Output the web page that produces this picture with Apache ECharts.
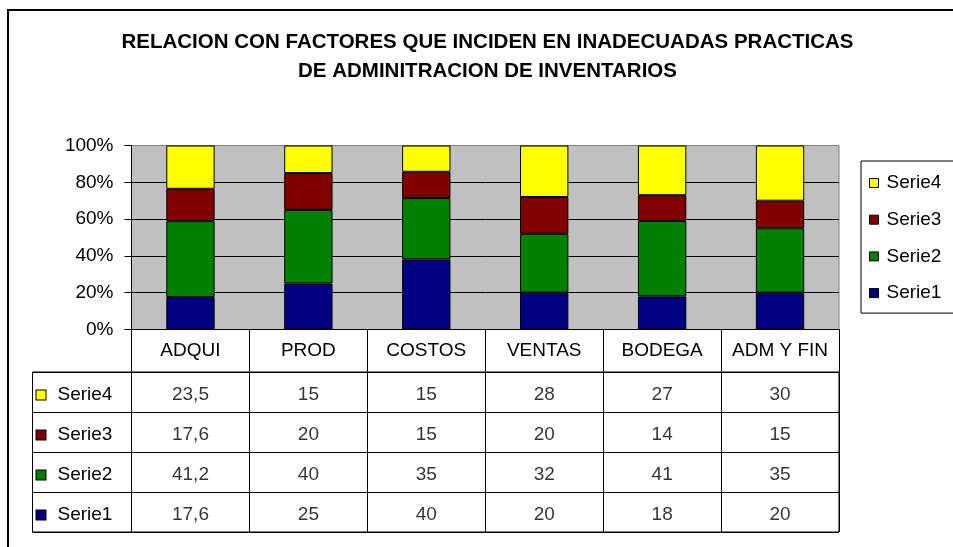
<!DOCTYPE html>
<html>
<head>
<meta charset="utf-8">
<script src="https://cdn.jsdelivr.net/npm/echarts@6/dist/echarts.min.js"></script>
<style>
html,body{margin:0;padding:0;background:#fff;}
#c{width:953px;height:547px;}
</style>
</head>
<body>
<div id="c"></div>
<script>
// ---- data ----
const categories = ['ADQUI', 'PROD', 'COSTOS', 'VENTAS', 'BODEGA', 'ADM Y FIN'];
const seriesNames = ['Serie1', 'Serie2', 'Serie3', 'Serie4'];
const serie1 = [17.6, 25, 40, 20, 18, 20];
const serie2 = [41.2, 40, 35, 32, 41, 35];
const serie3 = [17.6, 20, 15, 20, 14, 15];
const serie4 = [23.5, 15, 15, 28, 27, 30];
const yTicks = [0, 20, 40, 60, 80, 100];
const titleLines = ['RELACION CON FACTORES QUE INCIDEN EN INADECUADAS PRACTICAS', 'DE ADMINITRACION DE INVENTARIOS'];
// ---- styling ----
const colors = ['#000080', '#008000', '#800000', '#FFFF00'];
const FONT = '"Liberation Sans", Arial, sans-serif';
const FS = 19;

const raw = [serie1, serie2, serie3, serie4];
const totals = categories.map((c, i) => raw.reduce((s, arr) => s + arr[i], 0));
const fmt = v => String(v).replace('.', ',');

const plot = {left: 131.5, right: 953 - 839, top: 145.5, height: 184};
const tableTop = 372, tableBottom = 532;

const chart = echarts.init(document.getElementById('c'), null, {renderer: 'canvas'});

const series = [];
raw.forEach((arr, k) => {
  series.push({
    name: seriesNames[k], type: 'bar', stack: 'tot', xAxisIndex: 0, yAxisIndex: 0,
    barWidth: '41%',
    data: arr.map((v, i) => v / totals[i] * 100),
    itemStyle: {color: colors[k], borderColor: '#000', borderWidth: 1},
    emphasis: {disabled: true}, silent: true, animation: false
  });
});
raw.forEach((arr, k) => {
  series.push({
    name: 'tabla' + k, type: 'scatter', xAxisIndex: 1, yAxisIndex: 1,
    symbolSize: 1, itemStyle: {color: 'rgba(0,0,0,0)'},
    data: arr.map((v, i) => [categories[i], seriesNames[k], v]),
    label: {show: true, position: 'inside', offset: [0, 3], formatter: p => fmt(p.value[2]),
      color: '#000', fontSize: FS, fontFamily: FONT},
    silent: true, animation: false
  });
});

const rich = {t: {fontSize: FS, fontFamily: FONT, color: '#000', padding: [0, 0, 0, 12], verticalAlign: 'middle'}};
seriesNames.forEach((n, k) => {
  rich['s' + k] = {width: 9, height: 9, backgroundColor: colors[k], borderColor: '#000', borderWidth: 1, verticalAlign: 'middle'};
});

chart.setOption({
  animation: false,
  backgroundColor: '#fff',
  textStyle: {fontFamily: FONT, color: '#000'},
  graphic: [
    {type: 'rect', shape: {x: 8, y: 10, width: 1000, height: 600}, style: {fill: 'none', stroke: '#000', lineWidth: 2}, silent: true, z: -10},
    {type: 'text', x: 487.5, y: 28, style: {text: titleLines.join('\n'), fontSize: 20.5, fontWeight: 'bold', fontFamily: FONT, fill: '#000', align: 'center', lineHeight: 29}}
  ],
  legend: {
    data: seriesNames.slice().reverse(), orient: 'vertical', left: 861, top: 161,
    padding: [12, 30, 10, 8], itemGap: 16.7, itemWidth: 9, itemHeight: 9, icon: 'rect',
    borderColor: '#000', borderWidth: 1, backgroundColor: '#fff',
    itemStyle: {borderColor: '#000', borderWidth: 1},
    textStyle: {fontSize: FS, fontFamily: FONT, color: '#000', lineHeight: 20, padding: [0, 0, 0, 3]},
    selectedMode: false
  },
  grid: [
    {left: plot.left, right: plot.right, top: plot.top, height: plot.height, show: true, backgroundColor: '#C0C0C0', borderColor: '#808080', borderWidth: 1, containLabel: false},
    {left: plot.left, right: plot.right, top: tableTop, height: tableBottom - tableTop, show: true, backgroundColor: '#fff', borderColor: '#000', borderWidth: 1},
    {left: 32.5, width: plot.left - 32.5, top: tableTop, height: tableBottom - tableTop, show: true, backgroundColor: '#fff', borderColor: '#000', borderWidth: 1}
  ],
  xAxis: [
    {type: 'category', gridIndex: 0, data: categories, boundaryGap: true,
      axisLine: {show: true, lineStyle: {color: '#000', width: 1}},
      axisTick: {show: true, interval: 0, length: tableTop - plot.top - plot.height, lineStyle: {color: '#000'}},
      axisLabel: {interval: 0, margin: 12, fontSize: FS, fontFamily: FONT, color: '#000'},
      splitLine: {show: false}},
    {type: 'category', gridIndex: 1, data: categories, boundaryGap: true,
      axisLine: {show: false}, axisTick: {show: false}, axisLabel: {show: false},
      splitLine: {show: true, interval: 0, lineStyle: {color: '#000', width: 1}}},
    {type: 'category', gridIndex: 2, data: [''], axisLine: {show: false}, axisTick: {show: false}, axisLabel: {show: false}, splitLine: {show: false}}
  ],
  yAxis: [
    {type: 'value', gridIndex: 0, min: yTicks[0], max: yTicks[yTicks.length - 1], interval: 20,
      axisLine: {show: true, lineStyle: {color: '#000', width: 1}},
      axisTick: {show: true, length: 7, lineStyle: {color: '#000'}},
      axisLabel: {formatter: '{value}%', margin: 18, fontSize: FS, fontFamily: FONT, color: '#000'},
      splitLine: {show: true, lineStyle: {color: ['#000', '#000', '#000', '#000', '#000', '#808080'], width: 1}}},
    {type: 'category', gridIndex: 1, data: seriesNames,
      axisLine: {show: false}, axisTick: {show: false}, axisLabel: {show: false},
      splitLine: {show: true, interval: 0, lineStyle: {color: '#000', width: 1}}},
    {type: 'category', gridIndex: 2, data: seriesNames,
      axisLine: {show: false}, axisTick: {show: false},
      axisLabel: {show: true, inside: true, margin: 4, interval: 0, align: 'left', padding: [6, 0, 0, 0],
        formatter: (v, i) => '{s' + i + '|}{t|' + v + '}', rich: rich},
      splitLine: {show: true, interval: 0, lineStyle: {color: '#000', width: 1}}}
  ],
  series: series
});
</script>
</body>
</html>
